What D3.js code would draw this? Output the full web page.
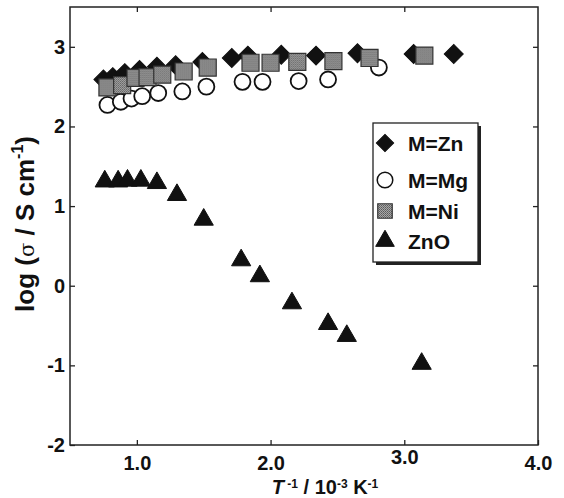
<!DOCTYPE html>
<html>
<head>
<meta charset="utf-8">
<script src="https://cdn.jsdelivr.net/npm/d3@7"></script>
<style>
  html, body { margin: 0; padding: 0; background: #fff; }
  svg { display: block; font-family: "Liberation Sans", Arial, Helvetica, sans-serif; }
  .tick text { font-weight: bold; font-size: 20px; fill: #111; }
</style>
</head>
<body>
<div id="chart"></div>
<script>
// T^-1 / 10^-3 K^-1 vs log(sigma)
const xZn = [0.75, 0.82, 0.91, 1.02, 1.15, 1.29, 1.49, 1.71, 1.83, 2.08, 2.34, 2.65, 3.07, 3.37];
const yZn = [2.59, 2.62, 2.67, 2.71, 2.75, 2.77, 2.81, 2.86, 2.89, 2.90, 2.89, 2.92, 2.91, 2.91];

const xMg = [0.78, 0.88, 0.96, 1.04, 1.16, 1.34, 1.52, 1.79, 1.94, 2.21, 2.43, 2.81];
const yMg = [2.27, 2.31, 2.35, 2.38, 2.42, 2.44, 2.50, 2.56, 2.56, 2.57, 2.59, 2.74];

const xNi = [0.78, 0.89, 0.99, 1.08, 1.19, 1.35, 1.53, 1.85, 2.00, 2.20, 2.47, 2.74, 3.15];
const yNi = [2.49, 2.52, 2.61, 2.62, 2.65, 2.69, 2.74, 2.80, 2.80, 2.81, 2.82, 2.86, 2.89];

const xZnO = [0.76, 0.86, 0.93, 1.03, 1.15, 1.30, 1.50, 1.78, 1.92, 2.16, 2.43, 2.57, 3.13];
const yZnO = [1.31, 1.31, 1.32, 1.32, 1.29, 1.14, 0.83, 0.32, 0.12, -0.22, -0.48, -0.63, -0.98];

const xTicks = [1.0, 2.0, 3.0, 4.0];
const yTicks = [-2, -1, 0, 1, 2, 3];
const legendLabels = ["M=Zn", "M=Mg", "M=Ni", "ZnO"];

const W = 564, H = 498;
const m = { left: 70, right: 26, top: 7, bottom: 53 };

const svg = d3.select("#chart").append("svg")
  .attr("width", W).attr("height", H);

// halftone-ish gray for the Ni squares
const defs = svg.append("defs");
const pat = defs.append("pattern").attr("id", "dots")
  .attr("width", 2).attr("height", 2).attr("patternUnits", "userSpaceOnUse");
pat.append("rect").attr("width", 2).attr("height", 2).attr("fill", "#a8a8a8");
pat.append("rect").attr("width", 1).attr("height", 1).attr("fill", "#5a5a5a");
pat.append("rect").attr("x", 1).attr("y", 1).attr("width", 1).attr("height", 1).attr("fill", "#6e6e6e");

const x = d3.scaleLinear().domain([0.5, 4.0]).range([m.left, W - m.right]);
const y = d3.scaleLinear().domain([-2, 3.5]).range([H - m.bottom, m.top]);

// axes (ticks inward, on all four sides)
const gx = svg.append("g").attr("transform", `translate(0,${H - m.bottom})`)
  .call(d3.axisBottom(x).tickValues(xTicks).tickFormat(d3.format(".1f")).tickSize(-5).tickPadding(11));
gx.selectAll(".tick text").attr("dy", (d) => d === 3.0 ? "0.4em" : "0.71em");

svg.append("g").attr("transform", `translate(0,${m.top})`)
  .call(d3.axisTop(x).tickValues(xTicks.slice(0, 3)).tickSize(-5).tickFormat(""));

svg.append("g").attr("transform", `translate(${m.left},0)`)
  .call(d3.axisLeft(y).tickValues(yTicks).tickFormat((d) => String(d)).tickSize(-5).tickPadding(5));

svg.append("g").attr("transform", `translate(${W - m.right},0)`)
  .call(d3.axisRight(y).tickValues(yTicks.slice(1)).tickSize(-5).tickFormat(""));

svg.selectAll(".domain").remove();
svg.selectAll(".tick line").attr("stroke", "#222").attr("stroke-width", 1.3);

svg.append("rect")
  .attr("x", m.left).attr("y", m.top)
  .attr("width", W - m.left - m.right).attr("height", H - m.top - m.bottom)
  .attr("fill", "none").attr("stroke", "#222").attr("stroke-width", 1.5);

// axis titles
const xt = svg.append("text")
  .attr("x", 325).attr("y", 493.5)
  .attr("text-anchor", "middle")
  .attr("font-weight", "bold").attr("font-size", 20).attr("fill", "#111");
xt.append("tspan").attr("font-style", "italic").text("T");
xt.append("tspan").attr("font-size", 12).attr("dy", -6).text(" -1");
xt.append("tspan").attr("dy", 6).text(" / 10");
xt.append("tspan").attr("font-size", 12).attr("dy", -6).text("-3");
xt.append("tspan").attr("dy", 6).text(" K");
xt.append("tspan").attr("font-size", 12).attr("dy", -6).text("-1");

const yt = svg.append("text")
  .attr("transform", "translate(34,224) rotate(-90)")
  .attr("text-anchor", "middle")
  .attr("font-weight", "bold").attr("font-size", 26).attr("fill", "#111");
yt.append("tspan").text("log (");
yt.append("tspan").attr("font-weight", "normal").attr("font-family", "DejaVu Serif").attr("font-size", 21).text("σ");
yt.append("tspan").text(" / S cm");
yt.append("tspan").attr("font-size", 16).attr("dy", -11).text("-1");
yt.append("tspan").attr("dy", 11).text(")");

// symbols
const symDiamond = d3.symbol().type(d3.symbolSquare).size(180);
const symCircle = d3.symbol().type(d3.symbolCircle).size(200);
const symSquare = d3.symbol().type(d3.symbolSquare).size(290);
const symTri = d3.symbol().type(d3.symbolTriangle).size(160);

function series(xs, ys, sym, style, rot) {
  const g = svg.append("g");
  g.selectAll("path").data(xs.map((v, i) => [v, ys[i]])).join("path")
    .attr("d", sym)
    .attr("transform", (d) => `translate(${x(d[0])},${y(d[1])})` + (rot ? " rotate(45)" : ""))
    .attr("fill", style.fill).attr("stroke", style.stroke).attr("stroke-width", style.sw);
}

const stZn = { fill: "#111", stroke: "#111", sw: 1 };
const stMg = { fill: "#fff", stroke: "#111", sw: 1.8 };
const stNi = { fill: "url(#dots)", stroke: "#333", sw: 1.2 };
const stZnO = { fill: "#111", stroke: "#111", sw: 1 };

series(xZn, yZn, symDiamond, stZn, true);
series(xMg, yMg, symCircle, stMg, false);
series(xNi, yNi, symSquare, stNi, false);
series(xZnO, yZnO, symTri, stZnO, false);

// legend
const lg = svg.append("g");
lg.append("rect").attr("x", 376).attr("y", 126).attr("width", 105).attr("height", 139).attr("fill", "#222");
lg.append("rect").attr("x", 373).attr("y", 123).attr("width", 105).attr("height", 139)
  .attr("fill", "#fff").attr("stroke", "#222").attr("stroke-width", 1.3);

const legendRows = [143, 180, 211, 241];
const legendSyms = [
  [d3.symbol().type(d3.symbolSquare).size(150), stZn, true],
  [d3.symbol().type(d3.symbolCircle).size(190), { fill: "#fff", stroke: "#111", sw: 1.5 }, false],
  [d3.symbol().type(d3.symbolSquare).size(210), stNi, false],
  [d3.symbol().type(d3.symbolTriangle).size(150), stZnO, false]
];
legendLabels.forEach((lab, i) => {
  const [s, st, rot] = legendSyms[i];
  lg.append("path").attr("d", s)
    .attr("transform", `translate(385,${legendRows[i]})` + (rot ? " rotate(45)" : ""))
    .attr("fill", st.fill).attr("stroke", st.stroke).attr("stroke-width", st.sw);
  lg.append("text").attr("x", 408).attr("y", legendRows[i] + 8)
    .attr("font-weight", "bold").attr("font-size", 21).attr("fill", "#111").text(lab);
});
</script>
</body>
</html>
